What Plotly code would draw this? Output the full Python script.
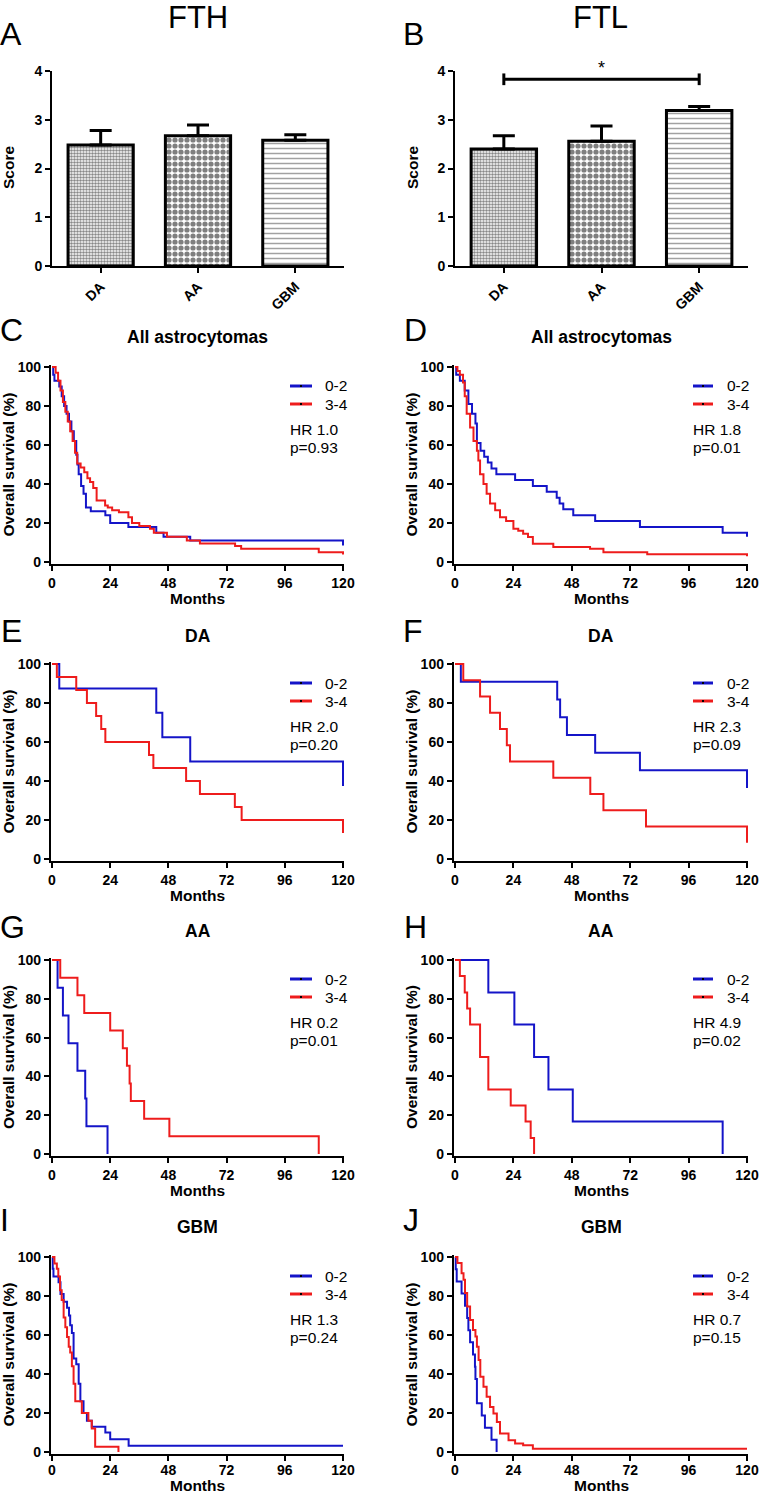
import plotly.graph_objects as go

W, H = 759, 1495
FONT = "Liberation Sans, Arial, sans-serif"

# ---------------- DATA ----------------
groups = ["DA", "AA", "GBM"]
fth_score = [2.48, 2.67, 2.58]
fth_sem = [0.30, 0.22, 0.11]
ftl_score = [2.40, 2.56, 3.19]
ftl_sem = [0.27, 0.31, 0.08]
ftl_sig_pair = [0, 2]          # DA vs GBM
ftl_sig_level = 3.83
ftl_sig_label = "*"

series_names = ["0-2", "3-4"]
km_titles = ["All astrocytomas", "All astrocytomas", "DA", "DA", "AA", "AA", "GBM", "GBM"]
km_hr = ["HR 1.0", "HR 1.8", "HR 2.0", "HR 2.3", "HR 0.2", "HR 4.9", "HR 1.3", "HR 0.7"]
km_p = ["p=0.93", "p=0.01", "p=0.20", "p=0.09", "p=0.01", "p=0.02", "p=0.24", "p=0.15"]
month_ticks = [0, 24, 48, 72, 96, 120]
surv_ticks = [0, 20, 40, 60, 80, 100]

# C: FTH, all astrocytomas
c_low_t = [0, 0.5, 1, 3, 4, 5, 6, 7, 8, 9, 10, 10.5, 11, 12, 13, 14, 16, 22, 24, 31.5, 43, 46, 57, 120]
c_low_s = [100, 96, 93, 90, 85, 80, 76, 72, 67, 62, 55, 50, 45, 39, 35, 28, 26, 24, 20, 18, 15, 13, 11, 8.5]
c_high_t = [0, 1.5, 2.5, 3.5, 4.5, 5.5, 6.5, 7.5, 8.5, 9.5, 10.4, 11.8, 13.3, 14.6, 15.7, 17, 18.4, 21.9, 23, 24.8,
            27.6, 31.5, 33, 36, 40.4, 42, 47.4, 55.6, 61, 75.5, 78, 110, 120]
c_high_s = [100, 97, 93, 88, 82, 77, 72, 67, 62, 56, 50.5, 48.5, 46, 43, 41, 38, 31.5, 29, 28, 26.5,
            25.5, 23, 20, 18.5, 17, 15, 13, 11, 9.5, 8.2, 6.8, 5, 3.9]
# D: FTL, all astrocytomas
d_low_t = [0, 0.5, 2, 4, 5.5, 7, 8.4, 9, 10.5, 12, 13.5, 15, 17, 24.7, 32, 37.7, 41.8, 43, 44.5, 48.6, 57.6, 76, 110, 120]
d_low_s = [100, 96, 93, 88, 81, 76, 71, 61, 57, 54, 51, 48, 45, 42, 39, 36, 33, 30, 27, 24, 21, 18, 15, 13]
d_high_t = [0, 1, 2, 3.3, 4, 4.8, 6.2, 7.6, 9, 9.6, 10.3, 11.7, 13, 14.4, 16.5, 18.5, 21, 24, 26, 28, 30, 32,
            40.4, 55.5, 61, 79, 120]
d_high_s = [100, 98, 96, 92, 85, 76, 69, 62, 57, 52, 45, 40, 35, 30, 26.5, 23, 21, 17, 16, 14.5, 12.8, 9.4,
            7.7, 6.8, 5, 4, 3]
# E: FTH, DA
e_low_t = [0, 3, 43, 45.5, 57, 120]
e_low_s = [100, 87.5, 75, 62.5, 50, 37.5]
e_high_t = [0, 2, 10, 14.4, 18.2, 20.3, 22, 40, 41.8, 55.3, 61, 75.4, 78.2, 120]
e_high_s = [100, 93.3, 86.7, 80, 73.3, 66.7, 60, 53.3, 46.7, 40, 33.3, 26.7, 20, 13.3]
# F: FTL, DA
f_low_t = [0, 2.4, 42, 43.2, 46, 57.6, 76, 120]
f_low_s = [100, 90.9, 81.8, 72.7, 63.6, 54.5, 45.5, 36.4]
f_high_t = [0, 3.4, 10.3, 14.4, 18.5, 21.3, 22.6, 40.4, 55.6, 61, 78.5, 120]
f_high_s = [100, 91.7, 83.3, 75, 66.7, 58.3, 50, 41.7, 33.3, 25, 16.7, 8.3]
# G: FTH, AA
g_low_t = [0, 2.3, 4.5, 6.8, 10.5, 13.7, 14.2, 22.9]
g_low_s = [100, 85.7, 71.4, 57.1, 42.9, 28.6, 14.3, 0]
g_high_t = [0, 3.4, 10.5, 13.3, 24, 29.2, 30.9, 32, 32.5, 38, 48.4, 110]
g_high_s = [100, 90.9, 81.8, 72.7, 63.6, 54.5, 45.5, 36.4, 27.3, 18.2, 9.1, 0]
# H: FTL, AA
h_low_t = [0, 13.7, 24.4, 32.5, 38.4, 48.4, 110]
h_low_s = [100, 83.3, 66.7, 50, 33.3, 16.7, 0]
h_high_t = [0, 2, 4, 5, 6.2, 10.3, 13.7, 22.9, 29, 31.1, 32.5]
h_high_s = [100, 91.7, 83.3, 75, 66.7, 50, 33.3, 25, 16.7, 8.3, 0]
# I: FTH, GBM
i_low_t = [0, 0.3, 0.6, 2.7, 3.5, 4.8, 6.2, 7, 7.5, 8.2, 8.9, 10, 11, 11.7, 13, 14.4, 16.4, 22, 24, 31.6, 120]
i_low_s = [100, 94, 90, 87, 81, 77, 74, 70, 65, 61, 48, 45, 35, 26, 20, 16, 13, 10, 6.5, 3.2, 3.2]
i_high_t = [0, 1, 2, 2.6, 3.3, 4, 4.8, 5.5, 6.2, 6.9, 7.5, 8.2, 8.9, 9.6, 12.3, 15, 16.4, 17.8, 27.4]
i_high_s = [100, 96.7, 94, 90, 83, 78, 69, 64, 59, 54, 51, 44, 35, 26, 20, 16, 12, 2.7, 0]
# J: FTL, GBM
j_low_t = [0, 0.3, 0.7, 2.7, 4.1, 5, 5.5, 6.2, 7.4, 8.2, 8.4, 9, 11, 12.3, 15, 17.1]
j_low_s = [100, 93.75, 87.5, 81.25, 75, 68.75, 62.5, 56.25, 50, 43.75, 37.5, 25, 18.75, 12.5, 6.25, 0]
j_high_t = [0, 1, 2.7, 3.5, 4.1, 5, 6.2, 7.4, 8.4, 9, 9.7, 10.4, 11.7, 13, 14.4, 15.8, 17.2, 18.5, 22, 24.7,
            28, 32, 120]
j_high_s = [100, 96.9, 91.7, 88.3, 81.5, 74.6, 67.7, 62.6, 59.2, 54, 47.2, 38.6, 33.4, 28.3, 23.1, 19.7, 15.4,
            9.5, 6, 4.3, 3.4, 1.7, 1.7]

km_curves = [
    (c_low_t, c_low_s, c_high_t, c_high_s),
    (d_low_t, d_low_s, d_high_t, d_high_s),
    (e_low_t, e_low_s, e_high_t, e_high_s),
    (f_low_t, f_low_s, f_high_t, f_high_s),
    (g_low_t, g_low_s, g_high_t, g_high_s),
    (h_low_t, h_low_s, h_high_t, h_high_s),
    (i_low_t, i_low_s, i_high_t, i_high_s),
    (j_low_t, j_low_s, j_high_t, j_high_s),
]

# ---------------- STYLE / LAYOUT ----------------
BLUE = "#1414c8"
RED = "#ee1c1c"
TICKFONT = dict(family=FONT, size=14, color="black", weight="bold")


def px(x):
    return x / W


def py(y):
    return 1 - y / H


def axname(i, kind):
    return f"{kind}axis" if i == 1 else f"{kind}axis{i}"


def axref(i, kind):
    return kind if i == 1 else f"{kind}{i}"


axis_common = dict(showline=True, linecolor="black", linewidth=2, ticks="outside", ticklen=5,
                   tickwidth=2, tickcolor="black", showgrid=False, zeroline=False,
                   tickfont=TICKFONT, fixedrange=True)

fig = go.Figure()
layout = dict(autosize=True, margin=dict(l=0, r=0, t=0, b=0, autoexpand=False), plot_bgcolor="white",
              paper_bgcolor="white", showlegend=False, font=dict(family=FONT, color="black"))
annotations = []
shapes = []


def ann(x, y, text, size, bold=False, xanchor="center", angle=0, **kw):
    d = dict(x=px(x), y=py(y), xref="paper", yref="paper", text=text, showarrow=False,
             xanchor=xanchor, yanchor="middle", textangle=angle,
             font=dict(family=FONT, size=size, color="black", weight="bold" if bold else "normal"))
    d.update(kw)
    annotations.append(d)


# ---- Bar panels A, B ----
bar_cols = [(52, 344), (455, 748)]
bar_top, bar_bot = 71, 266
bar_data = [(fth_score, fth_sem), (ftl_score, ftl_sem)]
for k in range(2):
    i = k + 1
    vals, sem = bar_data[k]
    fig.add_trace(go.Bar(
        x=groups, y=vals, xaxis=axref(i, "x"), yaxis=axref(i, "y"),
        marker=dict(color="white", line=dict(color="black", width=3),
                    pattern=dict(shape=[".", ".", "-"], size=[3, 6, 5], solidity=[0.55, 0.6, 0.3],
                                 fgcolor=["#111111", "black", "#444444"], bgcolor="white",
                                 fillmode="overlay")),
        error_y=dict(type="data", array=sem, arrayminus=[0] * len(sem), symmetric=False,
                     color="black", thickness=3, width=11),
        width=0.67,
    ))
    x0, x1 = bar_cols[k]
    layout[axname(i, "x")] = dict(axis_common, domain=[px(x0), px(x1)], anchor=axref(i, "y"),
                                  type="category", range=[-0.5, 2.5], tickangle=-45)
    layout[axname(i, "y")] = dict(axis_common, domain=[py(bar_bot), py(bar_top)], anchor=axref(i, "x"),
                                  range=[0, 4], tickvals=[0, 1, 2, 3, 4])

# significance bracket on B
a, b = ftl_sig_pair
for xs, ys in [((a, b), (ftl_sig_level, ftl_sig_level)),
               ((a, a), (ftl_sig_level - 0.12, ftl_sig_level + 0.12)),
               ((b, b), (ftl_sig_level - 0.12, ftl_sig_level + 0.12))]:
    shapes.append(dict(type="line", xref="x2", yref="y2", x0=xs[0], x1=xs[1], y0=ys[0], y1=ys[1],
                       line=dict(color="black", width=3)))
annotations.append(dict(x=(a + b) / 2, y=ftl_sig_level, xref="x2", yref="y2", text=ftl_sig_label,
                        showarrow=False, yanchor="bottom", yshift=-1,
                        font=dict(family=FONT, size=18, color="black")))

# headers and bar-panel labels
ann(198, 18, "FTH", 31)
ann(600, 18, "FTL", 31)
ann(11, 34, "A", 32)
ann(414, 34, "B", 32)
ann(8, 168, "Score", 15.5, bold=True, angle=-90)
ann(412, 168, "Score", 15.5, bold=True, angle=-90)

# ---- KM panels ----
km_cols = [(52, 343), (455, 747)]
km_tops = [367, 664, 960, 1257]
km_bots = [562, 859, 1154, 1452]
letters = ["C", "D", "E", "F", "G", "H", "I", "J"]
letter_y = [330, 631, 927, 1220]
title_y = [337, 636, 931, 1227]
months_dy = [36, 36, 36, 33.5]
ticklabel_shift = [0, 0, 0, -3]
letter_x = [[11, 415], [11, 413], [12, 415], [4, 411]]
ytitle_x = [8, 411]
leg_line_x = [(290, 312), (693, 713)]
leg_text_x = [323, 725]
XPAD, YPAD = 0.5, 1.0

for n in range(8):
    i = n + 3
    row, col = n // 2, n % 2
    x0, x1 = km_cols[col]
    top, bot = km_tops[row], km_bots[row]
    xs_px = (x1 - x0) / 120.0
    ys_px = (bot - top) / 100.0
    lt, ls, ht, hs = km_curves[n]
    for t, s, colr in [(lt, ls, BLUE), (ht, hs, RED)]:
        fig.add_trace(go.Scatter(x=t, y=s, mode="lines", line=dict(color=colr, width=2, shape="hv"),
                                 xaxis=axref(i, "x"), yaxis=axref(i, "y"), hoverinfo="skip"))
    layout[axname(i, "x")] = dict(axis_common, domain=[px(x0 - XPAD * xs_px), px(x1 + XPAD * xs_px)],
                                  anchor=axref(i, "y"), range=[-XPAD, 120 + XPAD], tickvals=month_ticks,
                                  ticklabelstandoff=ticklabel_shift[row])
    layout[axname(i, "y")] = dict(axis_common, domain=[py(bot + YPAD * ys_px), py(top - YPAD * ys_px)],
                                  anchor=axref(i, "x"), range=[-YPAD, 100 + YPAD], tickvals=surv_ticks)
    cx = (x0 + x1) / 2
    ann(letter_x[row][col], letter_y[row], letters[n], 32)
    ann(cx, title_y[row], km_titles[n], 17.5, bold=True)
    ann(cx, bot + months_dy[row], "Months", 15.5, bold=True)
    ann(ytitle_x[col], (top + bot) / 2, "Overall survival (%)", 15.5, bold=True, angle=-90)
    # legend
    lx0, lx1 = leg_line_x[col]
    for j, (name, colr) in enumerate(zip(series_names, [BLUE, RED])):
        yy = top + 19 + 18 * j
        shapes.append(dict(type="line", xref="paper", yref="paper", x0=px(lx0), x1=px(lx1),
                           y0=py(yy), y1=py(yy), line=dict(color=colr, width=3)))
        mx = (lx0 + lx1) / 2
        shapes.append(dict(type="line", xref="paper", yref="paper", x0=px(mx - 1), x1=px(mx + 1),
                           y0=py(yy), y1=py(yy), line=dict(color="black", width=2)))
        ann(leg_text_x[col], yy, name, 15.5, xanchor="left")
    ann(lx0 - 2, top + 62, km_hr[n], 15.5, xanchor="left")
    ann(lx0 - 2, top + 80, km_p[n], 15.5, xanchor="left")

layout["annotations"] = annotations
layout["shapes"] = shapes
layout["bargap"] = 0.33
fig.update_layout(**layout)
fig.write_html(
    "out.html",
    default_width="100vw",
    default_height="100vh",
    config={"displayModeBar": False, "responsive": True},
    post_script=("document.documentElement.style.margin='0';document.body.style.margin='0';"
                 "document.body.style.overflow='hidden';"
                 "var gd=document.getElementById('{plot_id}');gd.style.position='fixed';"
                 "gd.style.left='0';gd.style.top='0';Plotly.Plots.resize(gd);"),
)
